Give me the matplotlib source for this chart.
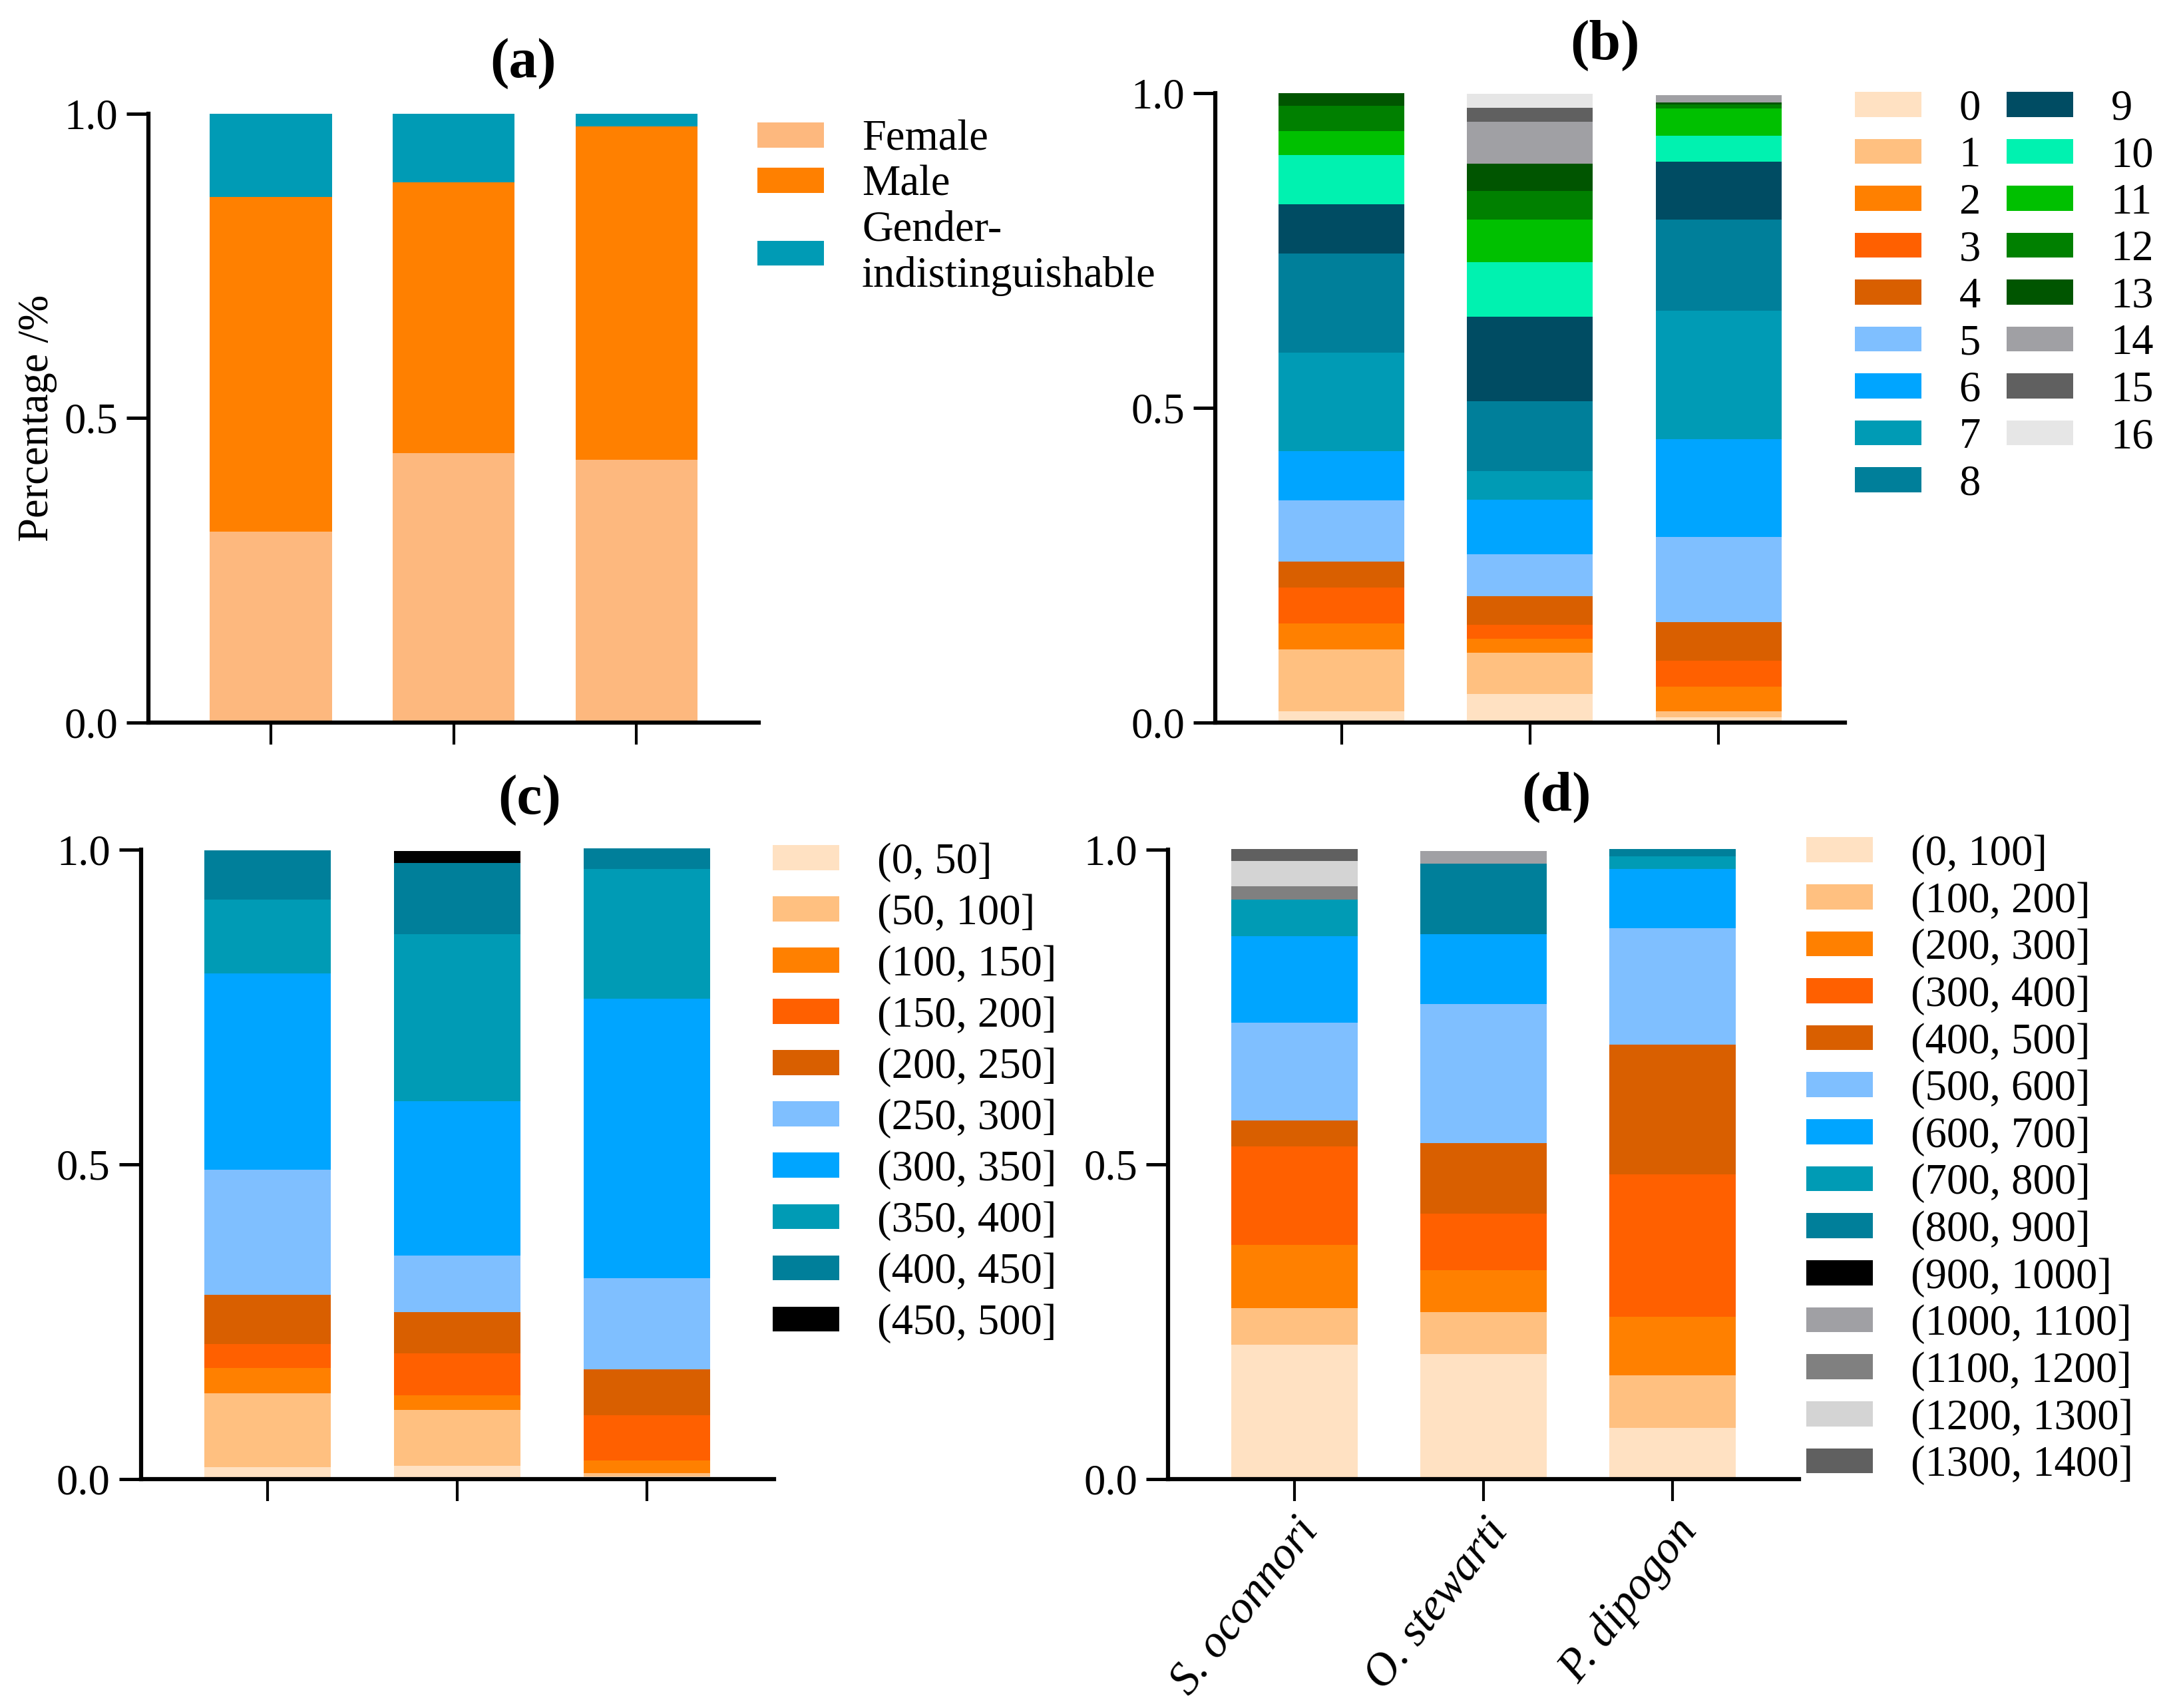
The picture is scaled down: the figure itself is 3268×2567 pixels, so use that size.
import matplotlib
matplotlib.use("Agg")
import matplotlib.pyplot as plt
from matplotlib.patches import Patch
import numpy as np

plt.rcParams['font.family'] = ['Liberation Serif', 'DejaVu Serif']
plt.rcParams['axes.linewidth'] = 1.5

# ---------------- data ----------------
species = ["S. oconnori", "O. stewarti", "P. dipogon"]

# (a) sex composition
sex_labels = ["Female", "Male", "Gender-\nindistinguishable"]
female = [0.313, 0.442, 0.431]
male = [0.550, 0.445, 0.548]
gender_ind = [0.137, 0.113, 0.021]

# (b) age classes 0..16 (rows = class, cols = species)
age_labels = [str(i) for i in range(17)]
age_vals = [
    [0.018, 0.045, 0.008],
    [0.098, 0.066, 0.009],
    [0.041, 0.022, 0.040],
    [0.057, 0.022, 0.041],
    [0.041, 0.045, 0.061],
    [0.098, 0.067, 0.135],
    [0.078, 0.087, 0.156],
    [0.156, 0.045, 0.204],
    [0.158, 0.111, 0.145],
    [0.078, 0.134, 0.092],
    [0.078, 0.087, 0.041],
    [0.038, 0.068, 0.043],
    [0.040, 0.045, 0.007],
    [0.021, 0.043, 0.003],
    [0.000, 0.067, 0.011],
    [0.000, 0.022, 0.000],
    [0.000, 0.023, 0.000],
]

# (c) length classes
len_labels = ["(0, 50]", "(50, 100]", "(100, 150]", "(150, 200]", "(200, 250]",
              "(250, 300]", "(300, 350]", "(350, 400]", "(400, 450]", "(450, 500]"]
len_vals = [
    [0.019, 0.021, 0.004],
    [0.118, 0.089, 0.006],
    [0.040, 0.023, 0.020],
    [0.038, 0.067, 0.072],
    [0.078, 0.066, 0.073],
    [0.199, 0.089, 0.144],
    [0.312, 0.246, 0.444],
    [0.117, 0.265, 0.207],
    [0.078, 0.113, 0.032],
    [0.000, 0.019, 0.000],
]

# (d) weight classes
wt_labels = ["(0, 100]", "(100, 200]", "(200, 300]", "(300, 400]", "(400, 500]",
             "(500, 600]", "(600, 700]", "(700, 800]", "(800, 900]", "(900, 1000]",
             "(1000, 1100]", "(1100, 1200]", "(1200, 1300]", "(1300, 1400]"]
wt_vals = [
    [0.214, 0.199, 0.082],
    [0.058, 0.067, 0.083],
    [0.100, 0.066, 0.093],
    [0.157, 0.090, 0.226],
    [0.041, 0.112, 0.207],
    [0.155, 0.221, 0.184],
    [0.138, 0.111, 0.095],
    [0.058, 0.000, 0.020],
    [0.000, 0.112, 0.011],
    [0.000, 0.000, 0.000],
    [0.000, 0.020, 0.000],
    [0.021, 0.000, 0.000],
    [0.040, 0.000, 0.000],
    [0.019, 0.000, 0.000],
]

# colours
base = ["#FFE1C2", "#FFC080", "#FF8000", "#FF6000", "#D95F00",
        "#7FBFFF", "#00A5FF", "#009BB5", "#007F9A"]
age_colors = base + ["#004C63", "#00F2B0", "#00C000", "#008000", "#005500",
                     "#A0A0A4", "#606060", "#E6E6E6"]
len_colors = base + ["#000000"]
wt_colors = base + ["#000000", "#A0A0A4", "#808080", "#D4D4D4", "#606060"]
sex_colors = ["#FDB87E", "#FF8000", "#009BB5"]

# ---------------- layout helpers ----------------
W, H = 1568.0, 1232.0


def fx(p):
    return p / W


def fy(p):
    return 1 - p / H


fig = plt.figure(figsize=(3268 / 300, 2567 / 300), dpi=300)

TICK_FS = 15.5
LEG_FS = 15.5


def make_axes(l, r, top, bot):
    ax = fig.add_axes([fx(l), fy(bot), fx(r) - fx(l), (bot - top) / H])
    ax.spines['top'].set_visible(False)
    ax.spines['right'].set_visible(False)
    ax.set_ylim(0, 1.0)
    ax.set_xlim(-0.67, 2.67)
    ax.set_yticks([0, 0.5, 1.0])
    ax.set_yticklabels(["0.0", "0.5", "1.0"])
    ax.set_xticks(range(len(species)))
    ax.tick_params(axis='y', length=8, width=1.2, labelsize=TICK_FS, pad=3)
    ax.tick_params(axis='x', length=8, width=1.0, labelsize=TICK_FS)
    return ax


def stack(ax, vals, colors):
    x = np.arange(len(species))
    bottom = np.zeros(len(species))
    for v, c in zip(vals, colors):
        v = np.array(v)
        ax.bar(x, v, 0.667, bottom=bottom, color=c, edgecolor='none', clip_on=False)
        bottom += v


def legend(ax, labels, colors, x, ytop, ncol=1, spacing=0.17, hl=1.55, hh=0.52):
    handles = [Patch(facecolor=c, edgecolor='none') for c in colors]
    ax.legend(handles, labels, loc='upper left', bbox_to_anchor=(fx(x), fy(ytop)),
              bbox_transform=fig.transFigure, frameon=False, fontsize=LEG_FS,
              borderpad=0, borderaxespad=0, handlelength=hl, handleheight=hh,
              handletextpad=0.88, labelspacing=spacing, ncol=ncol, columnspacing=0.6)


# (a)
ax_a = make_axes(107, 547, 82, 521)
stack(ax_a, [female, male, gender_ind], sex_colors)
ax_a.set_xticklabels([])
ax_a.set_ylabel("Percentage /%", fontsize=15.5, labelpad=2.5)
legend(ax_a, sex_labels, sex_colors, 546, 86.6, spacing=0.13)

# (b)
ax_b = make_axes(876, 1330, 67, 521)
stack(ax_b, age_vals, age_colors)
ax_b.set_xticklabels([])
legend(ax_b, age_labels, age_colors, 1337, 64.5, ncol=2)

# (c)
ax_c = make_axes(101.5, 558, 613, 1067)
stack(ax_c, len_vals, len_colors)
ax_c.set_xticklabels([])
legend(ax_c, len_labels, len_colors, 557, 607.6, spacing=0.27)

# (d)
ax_d = make_axes(842, 1297, 613, 1067)
stack(ax_d, wt_vals, wt_colors)
ax_d.set_xticklabels(species, rotation=52, ha='right', rotation_mode='anchor',
                     fontstyle='italic', fontsize=16.5)
legend(ax_d, wt_labels, wt_colors, 1302, 602)

# panel titles
for lab, px, py in [("(a)", 377, 46), ("(b)", 1157, 33), ("(c)", 382, 577), ("(d)", 1122, 575)]:
    fig.text(fx(px), fy(py), lab, fontsize=20.5, fontweight='bold', ha='center', va='center')

fig.savefig("out.png", dpi=300)
